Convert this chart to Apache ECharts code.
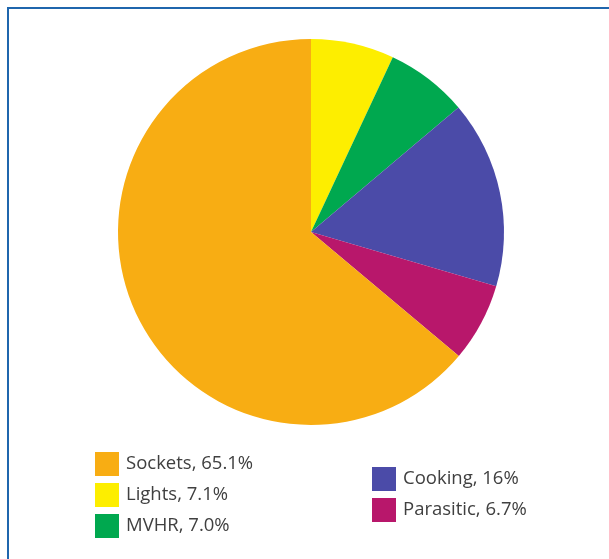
<!DOCTYPE html>
<html>
<head>
<meta charset="utf-8">
<script src="https://cdn.jsdelivr.net/npm/echarts@6/dist/echarts.min.js"></script>
<style>
html,body{margin:0;padding:0;background:#fff;}
#frame{position:absolute;left:7px;top:7px;width:602px;height:552px;border-top:2px solid #1f66ad;border-left:2px solid #1f66ad;box-sizing:border-box;}
#chart{position:absolute;left:0;top:0;width:609px;height:559px;}
</style>
</head>
<body>
<div id="frame"></div>
<div id="chart"></div>
<script>
// Drawing order (clockwise from 12 o'clock)
const categories = ['Lights', 'MVHR', 'Cooking', 'Parasitic', 'Sockets'];
const values = [7.1, 7.0, 16, 6.7, 65.1];
const valueLabels = ['7.1%', '7.0%', '16%', '6.7%', '65.1%'];
const colors = ['#fdee00', '#00a84f', '#4b4ba8', '#b8176b', '#f8ad13'];
const legendLeft = ['Sockets', 'Lights', 'MVHR'];
const legendRight = ['Cooking', 'Parasitic'];

const chart = echarts.init(document.getElementById('chart'), null, {renderer: 'canvas'});
const labelOf = {};
categories.forEach((c, i) => labelOf[c] = valueLabels[i]);
const legendBase = {
  orient: 'vertical',
  icon: 'rect',
  itemWidth: 24,
  itemHeight: 24,
  itemGap: 7,
  padding: 0,
  selectedMode: false,
  textStyle: {fontFamily: 'Open Sans', fontSize: 18.5, color: '#404040', padding: [0, 0, 0, 2]},
  formatter: n => n + ', ' + labelOf[n]
};
chart.setOption({
  animation: false,
  color: colors,
  legend: [
    Object.assign({}, legendBase, {data: legendLeft, left: 95, top: 452}),
    Object.assign({}, legendBase, {data: legendRight, left: 372, top: 467})
  ],
  series: [{
    type: 'pie',
    center: [311, 232],
    radius: 193,
    startAngle: 90,
    clockwise: true,
    label: {show: false},
    labelLine: {show: false},
    itemStyle: {borderWidth: 0},
    emphasis: {disabled: true},
    data: categories.map((c, i) => ({name: c, value: values[i], itemStyle: {color: colors[i]}}))
  }]
});
</script>
</body>
</html>
